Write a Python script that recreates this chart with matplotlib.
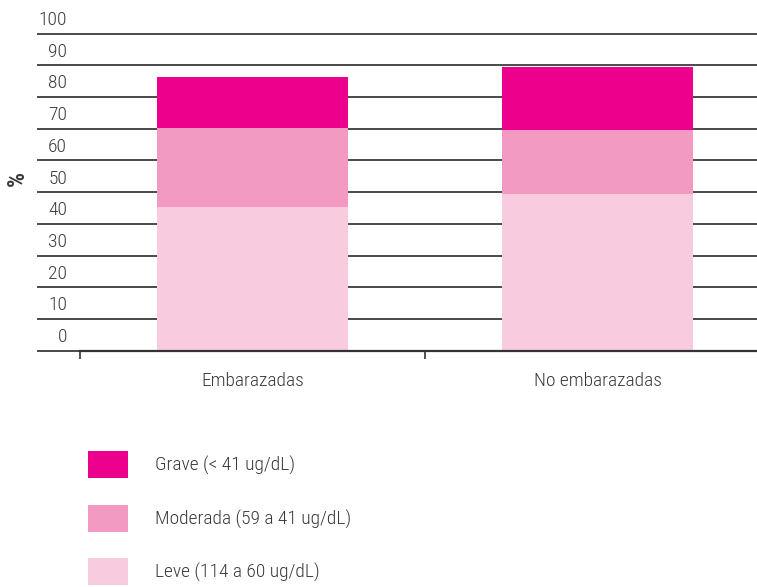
import matplotlib
matplotlib.use("Agg")
import matplotlib.pyplot as plt
from matplotlib.patches import Rectangle

plt.rcParams['font.family'] = ['Roboto Condensed', 'DejaVu Sans']
plt.rcParams['font.weight'] = 'light'

categories = ["Embarazadas", "No embarazadas"]
leve = [45.4, 49.4]
moderada = [24.9, 20.3]
grave = [16.0, 19.9]
series_labels = ["Grave (< 41 ug/dL)", "Moderada (59 a 41 ug/dL)", "Leve (114 a 60 ug/dL)"]
series_colors = ["#EC008C", "#F39AC2", "#F8CBDF"]
y_ticks = [0, 10, 20, 30, 40, 50, 60, 70, 80, 90, 100]

W, H = 757, 587
fig = plt.figure(figsize=(W / 100, H / 100), dpi=100)
ax = fig.add_axes([80 / W, (H - 350.7) / H, 690 / W, 317 / H])

text_color = "#3a3a3a"
fs = 14
x = list(range(len(categories)))
bw = 0.555
ax.bar(x, leve, bw, color=series_colors[2], zorder=3)
ax.bar(x, moderada, bw, bottom=leve, color=series_colors[1], zorder=3)
bottom2 = [a + b for a, b in zip(leve, moderada)]
ax.bar(x, grave, bw, bottom=bottom2, color=series_colors[0], zorder=3)

ax.set_xlim(-0.5, 1.5)
ax.set_ylim(0, 100)

for v in y_ticks:
    ax.axhline(v, xmin=-42 / 690, xmax=1, color="#4a4a4a", lw=1.4, zorder=1, clip_on=False)
    ax.text(-13 / 690, v + 4.3, str(v), transform=ax.get_yaxis_transform(),
            ha="right", va="center", fontsize=fs, color=text_color)

for s in ["top", "right", "left"]:
    ax.spines[s].set_visible(False)
ax.spines["bottom"].set_color("#333333")
ax.spines["bottom"].set_linewidth(1.6)
ax.spines["bottom"].set_zorder(4)
ax.set_yticks([])

ax.set_xticks(x)
ax.set_xticklabels(categories, fontsize=fs, color=text_color)
ax.tick_params(axis="x", which="major", length=0, pad=15)
ax.set_xticks([-0.5, 0.5, 1.5], minor=True)
ax.tick_params(axis="x", which="minor", length=6, width=1.2, color="#333333")

fig.text(17 / W, 1 - 178 / H, "%", rotation=90, ha="center", va="center",
         fontsize=17, fontweight="bold", color=text_color)

# legend
rows_y = [464, 518, 571]
for lab, col, yc in zip(series_labels, series_colors, rows_y):
    fig.add_artist(Rectangle((88 / W, 1 - (yc + 13.5) / H), 40 / W, 27 / H,
                             transform=fig.transFigure, color=col, lw=0))
    fig.text(155 / W, 1 - (yc + 1) / H, lab, ha="left", va="center", fontsize=fs, color=text_color)

fig.savefig("out.png", dpi=100)
